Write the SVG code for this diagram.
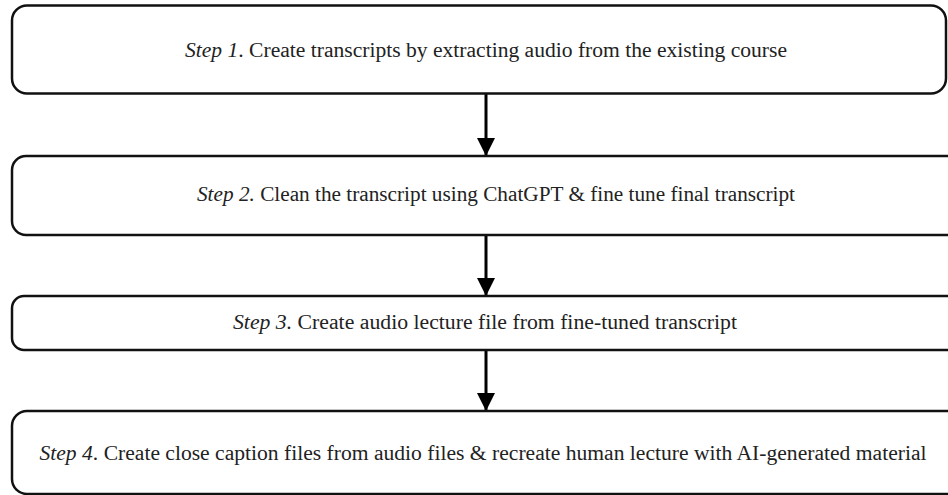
<svg xmlns="http://www.w3.org/2000/svg" width="948" height="495" viewBox="0 0 948 495">
<style>
.box{fill:#fff;stroke:#111;stroke-width:2.5}
.t{font-family:"Liberation Serif","Times New Roman",serif;font-size:20px;fill:#222;text-anchor:middle}
.i{font-style:italic}
.c{stroke:#000;stroke-width:3;fill:none}
</style>
<defs>
<marker id="ah" markerUnits="userSpaceOnUse" markerWidth="18" markerHeight="18" refX="16" refY="8" orient="auto" viewBox="0 0 16 16">
<path d="M0,0 L16,8 L0,16 Z" fill="#000"/>
</marker>
</defs>
<rect width="948" height="495" fill="#fff"/>
<g id="connectors">
<line class="c" x1="486" y1="94" x2="486" y2="156" marker-end="url(#ah)"/>
<line class="c" x1="486" y1="235" x2="486" y2="296" marker-end="url(#ah)"/>
<line class="c" x1="486" y1="350" x2="486" y2="411" marker-end="url(#ah)"/>
</g>
<g id="step1">
<rect class="box" x="12" y="5.5" width="934" height="88" rx="15"/>
<text class="t" x="486" y="57" textLength="602" lengthAdjust="spacingAndGlyphs"><tspan class="i">Step 1</tspan>. Create transcripts by extracting audio from the existing course</text>
</g>
<g id="step2">
<rect class="box" x="12" y="156" width="960" height="79" rx="14"/>
<text class="t" x="496" y="201" textLength="598" lengthAdjust="spacingAndGlyphs"><tspan class="i">Step 2.</tspan> Clean the transcript using ChatGPT &amp; fine tune final transcript</text>
</g>
<g id="step3">
<rect class="box" x="12" y="296" width="960" height="54" rx="12"/>
<text class="t" x="485" y="329" textLength="504" lengthAdjust="spacingAndGlyphs"><tspan class="i">Step 3.</tspan> Create audio lecture file from fine-tuned transcript</text>
</g>
<g id="step4">
<rect class="box" x="12" y="411" width="960" height="83" rx="15"/>
<text class="t" x="483" y="460" textLength="887" lengthAdjust="spacingAndGlyphs"><tspan class="i">Step 4</tspan>. Create close caption files from audio files &amp; recreate human lecture with AI-generated material</text>
</g>
</svg>
